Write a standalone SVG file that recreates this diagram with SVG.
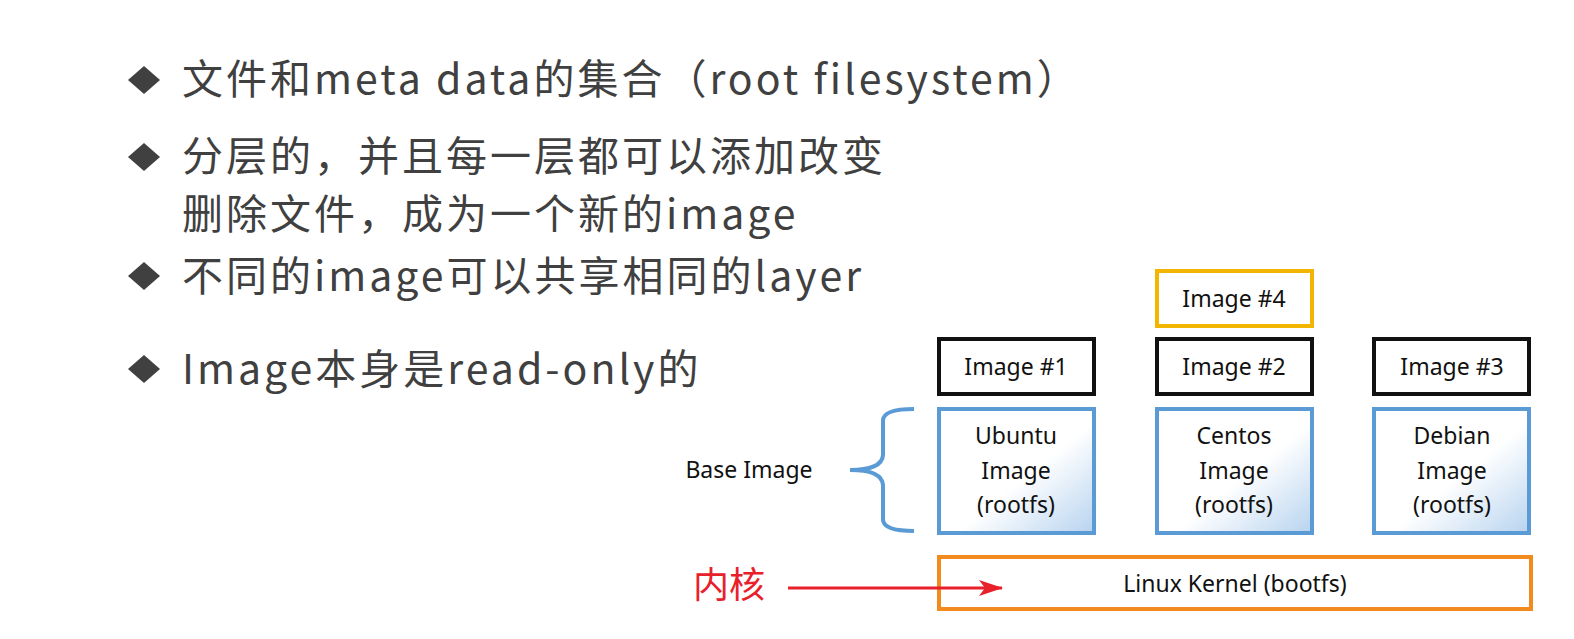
<svg xmlns="http://www.w3.org/2000/svg" width="1574" height="639" viewBox="0 0 1574 639">
<style>
.b{font-family:"Noto Sans CJK SC","Noto Sans",sans-serif;font-size:41px;letter-spacing:3px;fill:#404040}
.t{font-family:"Noto Sans","Noto Sans CJK SC",sans-serif;font-size:23px;fill:#111;text-anchor:middle}
.k{fill:#fff;stroke:#111;stroke-width:4}
.u{fill:url(#g);stroke:#5b9bd5;stroke-width:4}
</style>
<defs>
<linearGradient id="g" x1="0" y1="0" x2="1" y2="1"><stop offset="0.55" stop-color="#fff"/><stop offset="1" stop-color="#b7d3ef"/></linearGradient>
<marker id="a" markerWidth="24" markerHeight="16" refX="23" refY="8" orient="auto" markerUnits="userSpaceOnUse"><path d="M0,0 L24,8 L0,16 L6,8 Z" fill="#e8202a"/></marker>
</defs>
<rect width="1574" height="639" fill="#fff"/>
<g id="bullets" fill="#404040">
<path d="M144,66 L160,80 L144,94 L128,80 Z"/>
<path d="M144,143 L160,157 L144,171 L128,157 Z"/>
<path d="M144,262 L160,276 L144,290 L128,276 Z"/>
<path d="M144,355 L160,369 L144,383 L128,369 Z"/>
</g>
<text class="b" x="182" y="94">文件和meta data的集合（root filesystem）</text>
<text class="b" x="182" y="171">分层的，并且每一层都可以添加改变</text>
<text class="b" x="182" y="229">删除文件，成为一个新的image</text>
<text class="b" x="182" y="291">不同的image可以共享相同的layer</text>
<text class="b" x="182" y="384">Image本身是read-only的</text>
<g id="img4"><rect x="1157" y="271" width="155" height="55" fill="#fff" stroke="#f2b600" stroke-width="4"/><text class="t" x="1234" y="307">Image #4</text></g>
<g id="img1"><rect class="k" x="939" y="339" width="155" height="55"/><text class="t" x="1016" y="375">Image #1</text></g>
<g id="img2"><rect class="k" x="1157" y="339" width="155" height="55"/><text class="t" x="1234" y="375">Image #2</text></g>
<g id="img3"><rect class="k" x="1374" y="339" width="155" height="55"/><text class="t" x="1452" y="375">Image #3</text></g>
<g id="ubuntu"><rect class="u" x="939" y="409" width="155" height="124"/><text class="t" x="1016" y="444">Ubuntu</text><text class="t" x="1016" y="479">Image</text><text class="t" x="1016" y="513">(rootfs)</text></g>
<g id="centos"><rect class="u" x="1157" y="409" width="155" height="124"/><text class="t" x="1234" y="444">Centos</text><text class="t" x="1234" y="479">Image</text><text class="t" x="1234" y="513">(rootfs)</text></g>
<g id="debian"><rect class="u" x="1374" y="409" width="155" height="124"/><text class="t" x="1452" y="444">Debian</text><text class="t" x="1452" y="479">Image</text><text class="t" x="1452" y="513">(rootfs)</text></g>
<g id="kernel"><rect x="939" y="557" width="592" height="52" fill="#fff" stroke="#f28a1e" stroke-width="4"/><text class="t" x="1235" y="592">Linux Kernel (bootfs)</text></g>
<g id="base"><text class="t" x="749" y="478">Base Image</text></g>
<g id="neihe"><text x="693" y="598" style="font-family:'Noto Sans CJK SC',sans-serif;font-size:36px;fill:#e8202a">内核</text></g>
<g id="connectors">
<path d="M914,409 Q884,409 883,420 L883,455 Q882,470 850,470 Q882,470 883,485 L883,520 Q884,531 914,531" fill="none" stroke="#5b9bd5" stroke-width="4"/>
<line x1="788" y1="588" x2="1002" y2="588" stroke="#e8202a" stroke-width="3" marker-end="url(#a)"/>
</g>
</svg>
